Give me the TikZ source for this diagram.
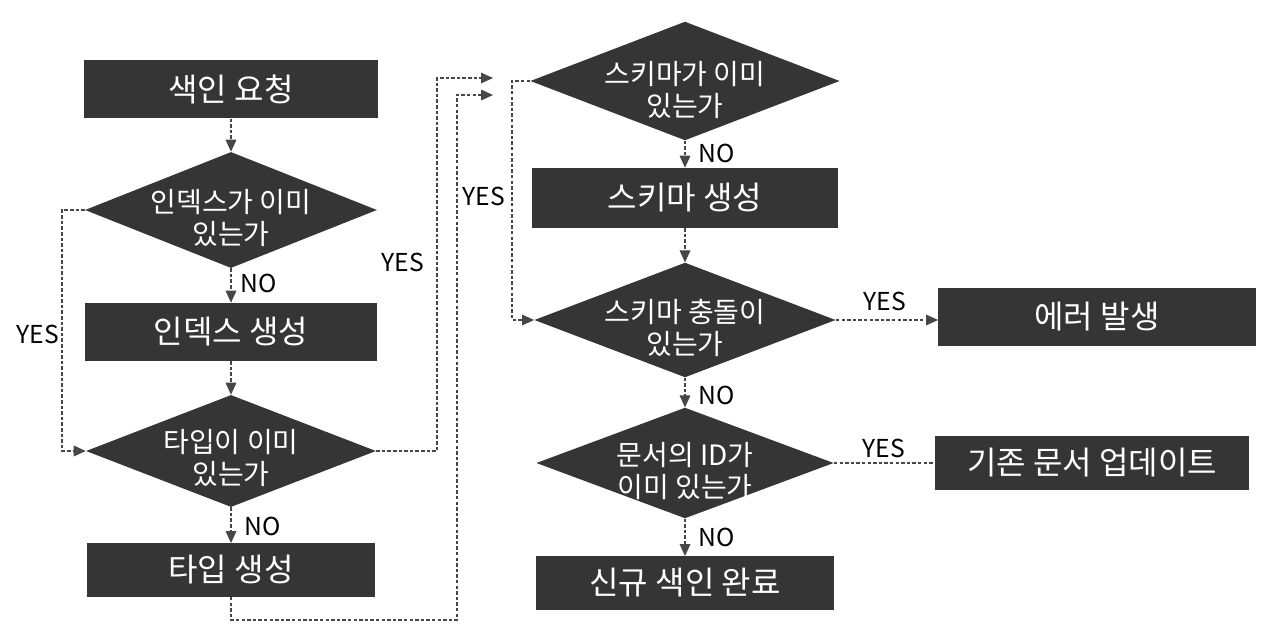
\documentclass[tikz,border=0pt]{standalone}
\usepackage{fontspec}
\setmainfont{Noto Sans CJK KR}
\usetikzlibrary{shapes.geometric,arrows.meta}
\definecolor{boxfill}{HTML}{353535}
\definecolor{linec}{HTML}{474747}
\begin{document}
\begin{tikzpicture}[x=0.75pt,y=-0.75pt,
  procbox/.style={draw=none,fill=boxfill,text=white,inner sep=0pt,font=\fontsize{24}{26}\selectfont},
  decision/.style={diamond,draw=none,fill=boxfill,inner sep=0pt},
  dtext/.style={text=white,align=center,font=\fontsize{21}{24}\selectfont,inner sep=0pt},
  conn/.style={draw=linec,line width=0.8pt,dash pattern=on 2.6pt off 1.6pt},
  tip/.style={-{Triangle[length=9pt,width=8pt]}},
  lbl/.style={font=\fontsize{18.5}{20}\selectfont,text=black,inner sep=0pt}]
\useasboundingbox (0,0) rectangle (1280,630);

% left column
\node[procbox,minimum width=221pt,minimum height=44pt] (n1) at (231,89) {색인 요청};
\node[decision,minimum width=219pt,minimum height=87pt] (d1) at (231,210) {};
\node[dtext] (d1t) at (231,218) {인덱스가 이미\\있는가};
\node[procbox,minimum width=219pt,minimum height=43.5pt] (n2) at (231,332) {인덱스 생성};
\node[decision,minimum width=217.5pt,minimum height=84pt] (d2) at (231,451) {};
\node[dtext] (d2t) at (231,458) {타입이 이미\\있는가};
\node[procbox,minimum width=216pt,minimum height=40pt] (n3) at (231,570) {타입 생성};

% right column
\node[decision,minimum width=232pt,minimum height=89pt] (d3) at (685,81) {};
\node[dtext] (d3t) at (685,90) {스키마가 이미\\있는가};
\node[procbox,minimum width=230pt,minimum height=45pt] (n4) at (685,198) {스키마 생성};
\node[decision,minimum width=226pt,minimum height=86pt] (d4) at (685,320) {};
\node[dtext] (d4t) at (685,328) {스키마 충돌이\\있는가};
\node[decision,minimum width=223pt,minimum height=83pt] (d5) at (685,463) {};
\node[dtext] (d5t) at (685,471) {문서의 ID가\\이미 있는가};
\node[procbox,minimum width=223pt,minimum height=40pt] (n5) at (685,583) {신규 색인 완료};

\node[procbox,minimum width=238pt,minimum height=43pt] (e1) at (1097,317) {에러 발생};
\node[procbox,minimum width=236pt,minimum height=40pt] (e2) at (1092,463) {기존 문서 업데이트};

\coordinate (a1) at (493,78);
\coordinate (a2) at (493,95);

% connectors left
\draw[conn,tip] (n1) -- (d1);
\draw[conn,tip] (d1) -- (n2);
\draw[conn,tip] (n2) -- (d2);
\draw[conn,tip] (d2) -- (n3);
\draw[conn,tip] (d1.west) -- (62,210) |- (d2.west);
\draw[conn,tip] (d2.east) -- (437,451) |- (a1);
\draw[conn,tip] (n3.south) -- (231,620) -| (457,95) -- (a2);

% connectors right
\draw[conn,tip] (d3) -- (n4);
\draw[conn,tip] (n4) -- (d4);
\draw[conn,tip] (d4) -- (d5);
\draw[conn,tip] (d5) -- (n5);
\draw[conn,tip] (d3.west) -- (512,81) |- (d4.west);
\draw[conn,tip] (d4.east) -- (d4.east -| e1.west);
\draw[conn] (d5.east) -- (d5.east -| e2.west);

% labels
\node[lbl] (y1) at (38,334) {YES};
\node[lbl] (y2) at (403,262) {YES};
\node[lbl] (y3) at (484,196) {YES};
\node[lbl] (y4) at (885,301) {YES};
\node[lbl] (y5) at (884,448) {YES};
\node[lbl,anchor=west] (no1) at (240,283) {NO};
\node[lbl,anchor=west] (no2) at (244,526) {NO};
\node[lbl,anchor=west] (no3) at (698,153) {NO};
\node[lbl,anchor=west] (no4) at (698,395) {NO};
\node[lbl,anchor=west] (no5) at (698,537) {NO};
\end{tikzpicture}
\end{document}
